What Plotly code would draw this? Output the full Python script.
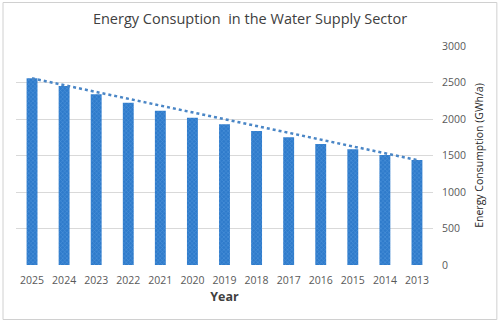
import numpy as np
import plotly.graph_objects as go

years = ["2025", "2024", "2023", "2022", "2021", "2020", "2019", "2018", "2017", "2016", "2015", "2014", "2013"]
consumption = [2557, 2452, 2338, 2224, 2114, 2018, 1927, 1836, 1749, 1658, 1584, 1507, 1438]
y_ticks = [0, 500, 1000, 1500, 2000, 2500, 3000]

# trend line through the series' first and last values
idx = np.arange(len(years))
trend = np.interp(idx, [idx[0], idx[-1]], [consumption[0], consumption[-1]])

W, H = 500, 322
L, R, T, B = 15.5, 66.5, 46, 57
pw, ph = W - L - R, H - T - B

def px(x):
    return (x - L) / pw

def py(y):
    return (H - B - y) / ph

fig = go.Figure()
fig.add_trace(go.Bar(
    x=years, y=consumption,
    marker=dict(color="#2F7BCB", line=dict(width=0),
                pattern=dict(shape="x", fgcolor="#6AAAE6", size=3, solidity=0.35)),
    width=0.34, hoverinfo="skip"))
fig.add_trace(go.Scatter(
    x=years, y=trend, mode="lines",
    line=dict(color="#4A86C6", width=2.5, dash="dot"), hoverinfo="skip"))

fig.update_layout(
    width=W, height=H,
    margin=dict(l=L, r=R, t=T, b=B),
    paper_bgcolor="white", plot_bgcolor="white",
    showlegend=False,
    font=dict(family="Open Sans", color="#595959"),
    title=dict(text="Energy Consuption  in the Water Supply Sector",
               x=0.5, xanchor="center", y=1 - 19 / H, yanchor="middle",
               font=dict(size=14.5, color="#404040", family="Open Sans")),
    xaxis=dict(type="category", showgrid=False, zeroline=False, showline=False,
               ticks="", ticklabelstandoff=7, tickfont=dict(size=10.5, color="#595959"),
               title=dict(text="<b>Year</b>", font=dict(size=12.5, color="#404040"), standoff=6)),
    yaxis=dict(side="right", range=[0, 3000], tickvals=y_ticks,
               showgrid=True, gridcolor="#D9D9D9", gridwidth=1, zeroline=False,
               showline=False, ticks="", ticklabelstandoff=8, tickfont=dict(size=10.5, color="#595959"),
               title=dict(text="Energy Consumption (GWh/a)", font=dict(size=10.5, color="#262626"), standoff=10)),
    shapes=[dict(type="rect", xref="paper", yref="paper",
                 x0=px(2.5), x1=px(497.5), y0=py(319.5), y1=py(2.5),
                 line=dict(color="#D0D0D0", width=1), layer="below")],
)

fig.write_html("out.html")
